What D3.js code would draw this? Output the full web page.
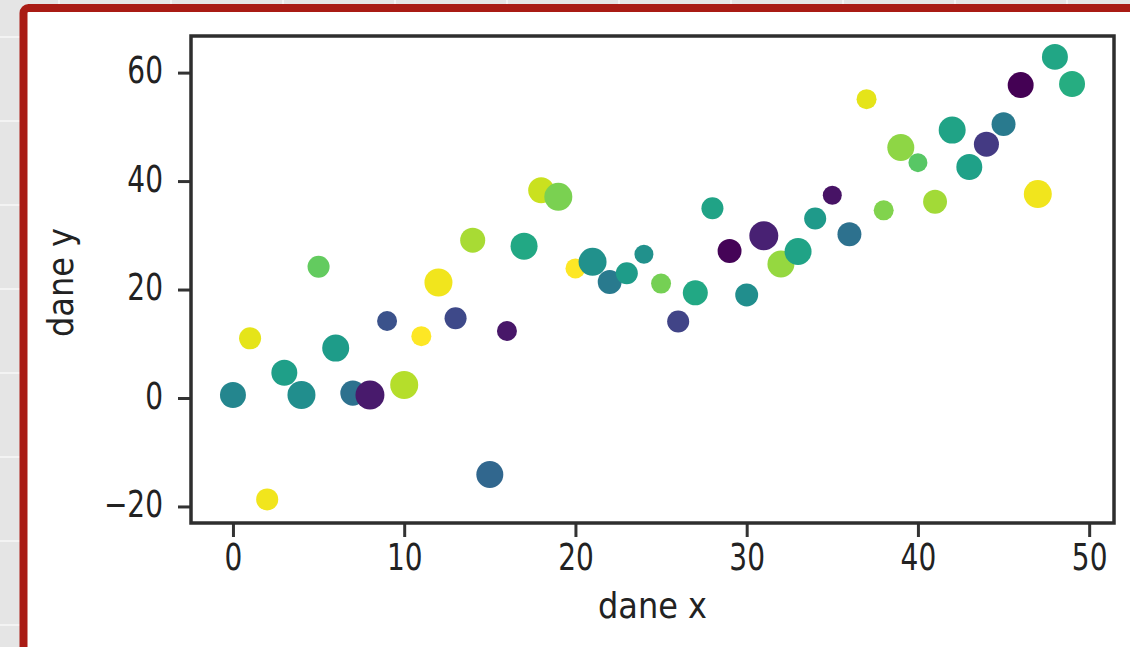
<!DOCTYPE html>
<html>
<head>
<meta charset="utf-8">
<script src="https://cdn.jsdelivr.net/npm/d3@7"></script>
<style>
  body { margin: 0; background: #e5e5e5; }
  svg { display: block; }
</style>
</head>
<body>
<svg width="1130" height="647"></svg>
<script>
// scatter: dane x / dane y, colour = viridis value, size = marker area
const xData = [0, 1, 2, 3, 4, 5, 6, 7, 8, 9,
  10, 11, 12, 13, 14, 15, 16, 17, 18, 19,
  20, 21, 22, 23, 24, 25, 26, 27, 28, 29,
  30, 31, 32, 33, 34, 35, 36, 37, 38, 39,
  40, 41, 42, 43, 44, 45, 46, 47, 48, 49];
const yData = [0.55, 11.0, -18.7, 4.66, 0.55, 24.2, 9.2, 0.9, 0.55, 14.2,
  2.4, 11.4, 21.3, 14.7, 29.1, -14.1, 12.35, 28.0, 38.3, 37.1,
  23.9, 25.1, 21.4, 23.0, 26.5, 21.1, 14.1, 19.4, 35.0, 27.1,
  19.0, 29.9, 24.7, 27.0, 33.1, 37.4, 30.2, 55.1, 34.6, 46.2,
  43.4, 36.2, 49.4, 42.6, 46.8, 50.5, 57.7, 37.6, 62.9, 57.9];
const colorData = [0.46, 0.96, 0.98, 0.56, 0.49, 0.76, 0.55, 0.37, 0.07, 0.25,
  0.89, 1.0, 0.98, 0.22, 0.87, 0.33, 0.06, 0.6, 0.92, 0.8,
  1.0, 0.5, 0.41, 0.55, 0.5, 0.79, 0.2, 0.6, 0.58, 0.01,
  0.49, 0.09, 0.84, 0.58, 0.54, 0.05, 0.37, 0.96, 0.81, 0.83,
  0.74, 0.86, 0.58, 0.57, 0.17, 0.41, 0.0, 0.98, 0.59, 0.62];
const sizeData = [86, 62, 62, 86, 100, 62, 93, 80, 107, 51,
  100, 51, 100, 62, 80, 93, 51, 93, 86, 100,
  51, 100, 73, 62, 46, 51, 62, 80, 62, 73,
  67, 107, 93, 93, 62, 46, 73, 51, 51, 93,
  46, 73, 93, 86, 80, 73, 86, 100, 86, 86];
const xTicks = [0, 10, 20, 30, 40, 50];
const yTicks = [-20, 0, 20, 40, 60];
const xLabel = 'dane x';
const yLabel = 'dane y';

function createChart() {
  const svg = d3.select('svg');
  const left = 191, right = 1114, top = 36, bottom = 523;

  // page behind the frame
  svg.append('rect')
      .attr('width', 1130).attr('height', 647)
      .attr('fill', '#e5e5e5');
  svg.append('g').selectAll('line')
      .data(d3.range(59, 1130, 112))
      .join('line')
      .attr('x1', d => d).attr('x2', d => d)
      .attr('y1', 0).attr('y2', 5)
      .attr('stroke', '#f3f3f3').attr('stroke-width', 2);
  svg.append('g').selectAll('line')
      .data(d3.range(37, 647, 84))
      .join('line')
      .attr('x1', 0).attr('x2', 20)
      .attr('y1', d => d).attr('y2', d => d)
      .attr('stroke', '#f3f3f3').attr('stroke-width', 2);
  svg.append('rect')
      .attr('x', 23.5).attr('y', 8)
      .attr('width', 1200).attr('height', 700)
      .attr('rx', 5)
      .attr('fill', '#ffffff')
      .attr('stroke', '#a91b14')
      .attr('stroke-width', 8);

  const xScale = d3.scaleLinear()
      .domain([-2.45, 51.45])
      .range([left, right]);
  const yScale = d3.scaleLinear()
      .domain([-23.05, 66.75])
      .range([bottom, top]);
  const rScale = d3.scaleSqrt()
      .domain([0, 100])
      .range([0, 14]);

  const points = xData.map((x, i) => ({
    x: x, y: yData[i], c: colorData[i], s: sizeData[i]
  }));

  svg.append('defs').append('clipPath')
      .attr('id', 'plotClip')
      .append('rect')
      .attr('x', left).attr('y', top)
      .attr('width', right - left).attr('height', bottom - top);

  svg.append('g')
      .attr('clip-path', 'url(#plotClip)')
      .selectAll('circle')
      .data(points)
      .join('circle')
      .attr('cx', d => xScale(d.x))
      .attr('cy', d => yScale(d.y))
      .attr('r', d => rScale(d.s))
      .attr('fill', d => d3.interpolateViridis(d.c));

  const xAxis = svg.append('g')
      .attr('transform', `translate(0, ${bottom})`)
      .call(d3.axisBottom(xScale).tickValues(xTicks).tickSize(14).tickSizeOuter(0));
  xAxis.select('.domain').remove();
  xAxis.attr('font-family', 'DejaVu Sans').attr('font-size', 28);
  xAxis.selectAll('line')
      .attr('stroke', '#333')
      .attr('stroke-width', 3);
  xAxis.selectAll('text')
      .attr('y', null).attr('dy', null)
      .attr('fill', '#222')
      .attr('dominant-baseline', 'central')
      .attr('transform', 'translate(0, 35) scale(1, 1.3)');

  const yAxis = svg.append('g')
      .attr('transform', `translate(${left}, 0)`)
      .call(d3.axisLeft(yScale).tickValues(yTicks).tickSize(13).tickSizeOuter(0));
  yAxis.select('.domain').remove();
  yAxis.attr('font-family', 'DejaVu Sans').attr('font-size', 28);
  yAxis.selectAll('line')
      .attr('stroke', '#333')
      .attr('stroke-width', 3);
  yAxis.selectAll('text')
      .attr('x', -28).attr('dy', null)
      .attr('fill', '#222')
      .attr('dominant-baseline', 'central')
      .attr('transform', 'translate(0, -2) scale(1, 1.3)');

  // spines
  svg.append('rect')
      .attr('x', left).attr('y', top)
      .attr('width', right - left).attr('height', bottom - top)
      .attr('fill', 'none')
      .attr('stroke', '#2e2e2e')
      .attr('stroke-width', 3.5);

  svg.append('text')
      .attr('transform', `translate(${(left + right) / 2}, 618) scale(1, 1.1)`)
      .attr('text-anchor', 'middle')
      .attr('font-family', 'DejaVu Sans')
      .attr('font-size', 32)
      .attr('fill', '#222')
      .text(xLabel);
  svg.append('text')
      .attr('transform', `translate(73, ${(top + bottom) / 2 + 3}) rotate(-90) scale(1, 1.1)`)
      .attr('text-anchor', 'middle')
      .attr('font-family', 'DejaVu Sans')
      .attr('font-size', 32)
      .attr('fill', '#222')
      .text(yLabel);
}

createChart();
</script>
</body>
</html>
